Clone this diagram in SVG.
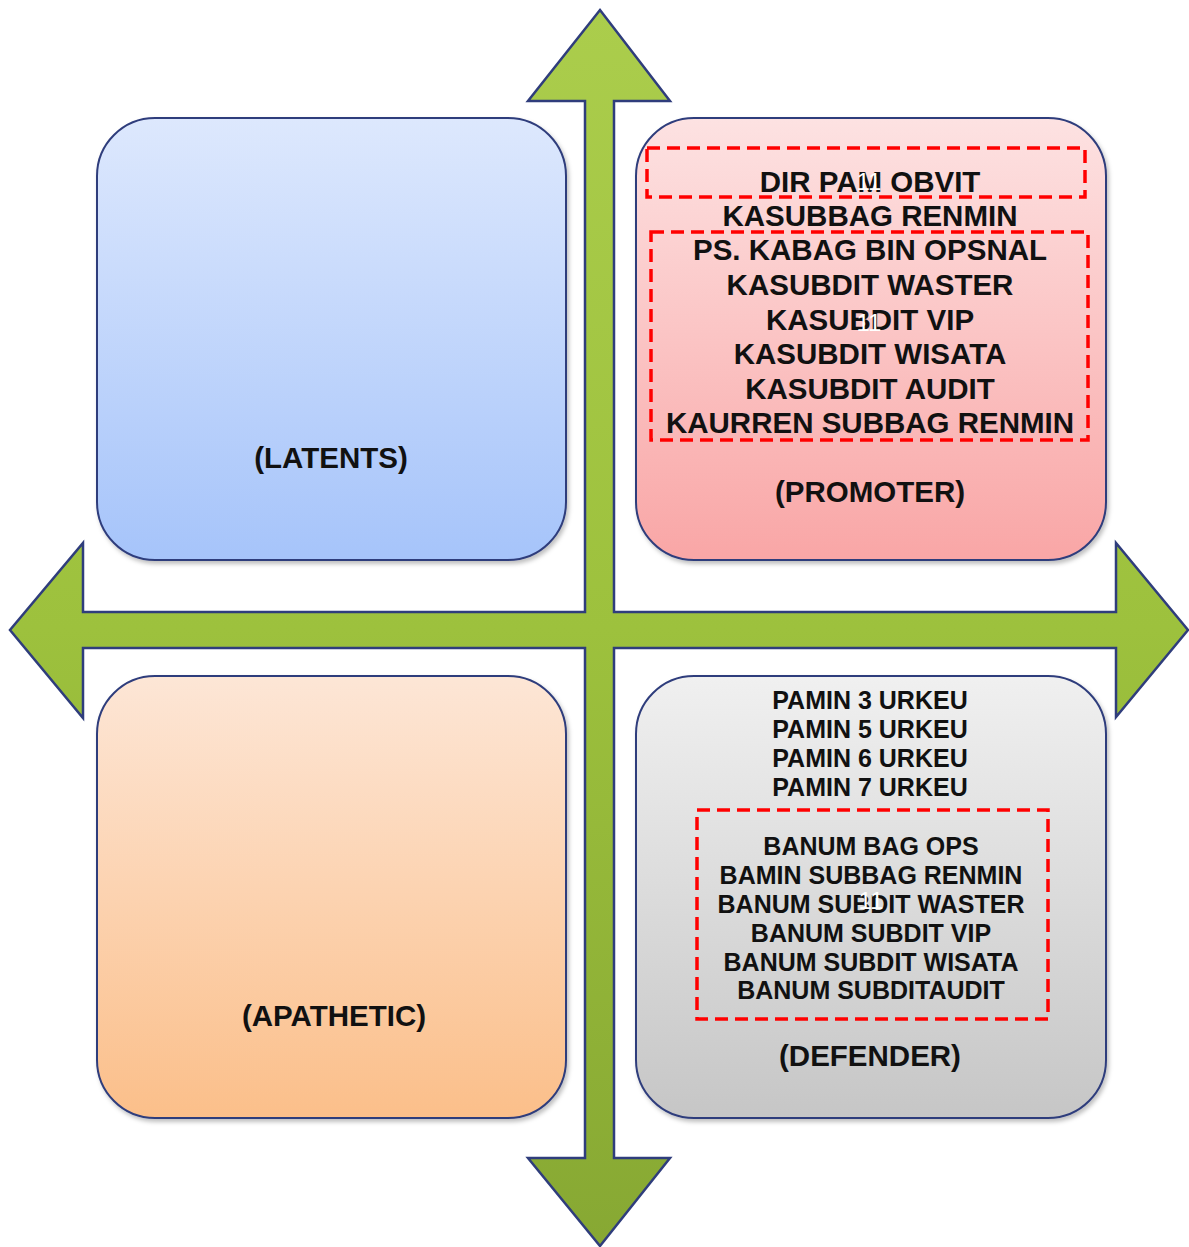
<svg xmlns="http://www.w3.org/2000/svg" width="1189" height="1247" viewBox="0 0 1189 1247">
<defs>
<linearGradient id="gBlue" x1="0" y1="0" x2="0" y2="1"><stop offset="0" stop-color="#dde8fd"/><stop offset="1" stop-color="#a6c4fa"/></linearGradient>
<linearGradient id="gRed" x1="0" y1="0" x2="0" y2="1"><stop offset="0" stop-color="#fde2e2"/><stop offset="1" stop-color="#f9a6a6"/></linearGradient>
<linearGradient id="gOrange" x1="0" y1="0" x2="0" y2="1"><stop offset="0" stop-color="#fde6d6"/><stop offset="1" stop-color="#fbbf8a"/></linearGradient>
<linearGradient id="gGray" x1="0" y1="0" x2="0" y2="1"><stop offset="0" stop-color="#f0f0f0"/><stop offset="1" stop-color="#c6c6c6"/></linearGradient>
<linearGradient id="gGreen" x1="0" y1="0" x2="0" y2="1"><stop offset="0" stop-color="#abcd4c"/><stop offset="0.5" stop-color="#9dc13d"/><stop offset="1" stop-color="#87a833"/></linearGradient>
<filter id="sh" x="-5%" y="-5%" width="110%" height="110%"><feDropShadow dx="2" dy="3" stdDeviation="2" flood-color="#000" flood-opacity="0.25"/></filter>
</defs>
<style>
.box{stroke:#2f3d7c;stroke-width:2;filter:url(#sh)}
.t{font-family:"Liberation Sans",Arial,sans-serif;font-weight:bold;fill:#111;text-anchor:middle}
.big{font-size:29.5px}
.mid{font-size:25px}
.lbl{font-size:29.5px}
.dash{fill:none;stroke:#ff0000;stroke-width:3.5;stroke-dasharray:13 7}
.num{font-family:"Liberation Sans",Arial,sans-serif;font-size:24px;fill:#ffffff;text-anchor:middle}
</style>
<g id="connectors">
<polygon points="600,10 670,101 614,101 614,612 1116,612 1116,543 1188,630 1116,717 1116,648 614,648 614,1158 670,1158 600,1246 528,1158 585,1158 585,648 83,648 83,718 10,630 83,543 83,612 585,612 585,101 528,101" fill="url(#gGreen)" stroke="#2f3d7c" stroke-width="2.5" stroke-linejoin="miter"/>
</g>
<g id="latents">
<rect class="box" x="97" y="118" width="469" height="442" rx="58" fill="url(#gBlue)"/>
<text class="t lbl" x="331" y="468">(LATENTS)</text>
</g>
<g id="promoter">
<rect class="box" x="636" y="118" width="470" height="442" rx="58" fill="url(#gRed)"/>
<rect class="dash" x="647" y="148" width="438" height="49"/>
<rect class="dash" x="651" y="232" width="437" height="208"/>
<text class="t big" x="870" y="192">DIR PAM OBVIT</text>
<text class="t big" x="870" y="226">KASUBBAG RENMIN</text>
<text class="t big" x="870" y="260">PS. KABAG BIN OPSNAL</text>
<text class="t big" x="870" y="295">KASUBDIT WASTER</text>
<text class="t big" x="870" y="330">KASUBDIT VIP</text>
<text class="t big" x="870" y="364">KASUBDIT WISATA</text>
<text class="t big" x="870" y="399">KASUBDIT AUDIT</text>
<text class="t big" x="870" y="433">KAURREN SUBBAG RENMIN</text>
<text class="num" x="869" y="190">11</text>
<text class="num" x="869" y="331">11</text>
<text class="t lbl" x="870" y="502">(PROMOTER)</text>
</g>
<g id="apathetic">
<rect class="box" x="97" y="676" width="469" height="442" rx="58" fill="url(#gOrange)"/>
<text class="t lbl" x="334" y="1026">(APATHETIC)</text>
</g>
<g id="defender">
<rect class="box" x="636" y="676" width="470" height="442" rx="58" fill="url(#gGray)"/>
<text class="t mid" x="870" y="709">PAMIN 3 URKEU</text>
<text class="t mid" x="870" y="738">PAMIN 5 URKEU</text>
<text class="t mid" x="870" y="767">PAMIN 6 URKEU</text>
<text class="t mid" x="870" y="796">PAMIN 7 URKEU</text>
<rect class="dash" x="697" y="810" width="351" height="209"/>
<text class="t mid" x="871" y="855">BANUM BAG OPS</text>
<text class="t mid" x="871" y="884">BAMIN SUBBAG RENMIN</text>
<text class="t mid" x="871" y="913">BANUM SUBDIT WASTER</text>
<text class="t mid" x="871" y="942">BANUM SUBDIT VIP</text>
<text class="t mid" x="871" y="971">BANUM SUBDIT WISATA</text>
<text class="t mid" x="871" y="999">BANUM SUBDITAUDIT</text>
<text class="num" x="871" y="909">11</text>
<text class="t lbl" x="870" y="1066">(DEFENDER)</text>
</g>
</svg>
